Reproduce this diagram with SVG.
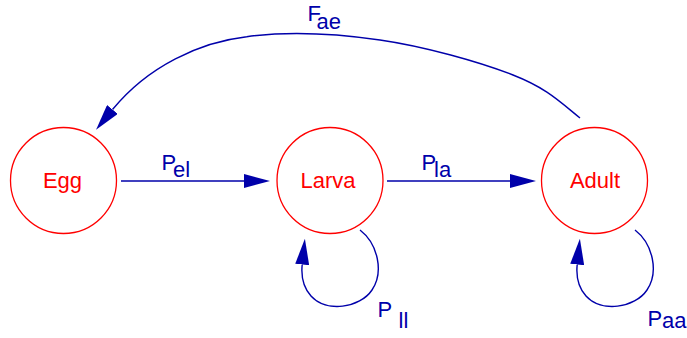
<svg xmlns="http://www.w3.org/2000/svg" width="687" height="338" viewBox="0 0 687 338">
<style>
.node{fill:none;stroke:#ff0000;stroke-width:1.3}
.ntext{font-family:"Liberation Sans",Arial,sans-serif;font-size:22px;fill:#ff0000;text-anchor:middle}
.edge{fill:none;stroke:#0000aa;stroke-width:1.4}
.lab{font-family:"Liberation Sans",Arial,sans-serif;font-size:22px;fill:#0000aa}
</style>
<defs>
<marker id="ah" viewBox="0 0 26 14" refX="0" refY="7" markerUnits="userSpaceOnUse" markerWidth="26" markerHeight="14" orient="auto">
<path d="M0,0 L26,7 L0,14 z" fill="#0000aa"/>
</marker>
</defs>
<rect width="687" height="338" fill="#ffffff"/>
<g id="connectors">
<path class="edge" d="M121,181 L244,181" marker-end="url(#ah)"/>
<path class="edge" d="M387,181 L510,181" marker-end="url(#ah)"/>
<path class="edge" d="M580,118 C559.3,101.2 546.3,88 513,75 C479.7,62 424.4,46.4 380,40 C335.6,33.6 285.6,31.4 246.7,36.7 C200,42 148,66 112.5,109.5" marker-end="url(#ah)"/>
<path class="edge" d="M360,230 C378,244 384,272 372,290 C360,308 326,313 311,296 C303,287 301,276 302.2,264.5" marker-end="url(#ah)"/>
<path class="edge" d="M635,230 C653,244 659,272 647,290 C635,308 601,313 586,296 C578,287 576,276 577.2,264.5" marker-end="url(#ah)"/>
</g>
<g id="egg">
<circle class="node" cx="63.5" cy="180.5" r="53"/>
<text class="ntext" x="62.5" y="188">Egg</text>
</g>
<g id="larva">
<circle class="node" cx="330" cy="180.5" r="53"/>
<text class="ntext" x="328" y="188">Larva</text>
</g>
<g id="adult">
<circle class="node" cx="594.5" cy="180.5" r="53"/>
<text class="ntext" x="595" y="188">Adult</text>
</g>
<g id="labels">
<text class="lab"><tspan x="161.6" y="170">P</tspan><tspan x="173" y="176.7">el</tspan></text>
<text class="lab"><tspan x="421.6" y="170">P</tspan><tspan x="434" y="176.7">la</tspan></text>
<text class="lab"><tspan x="307.5" y="20.7">F</tspan><tspan x="316.5" y="29.3">ae</tspan></text>
<text class="lab"><tspan x="377.6" y="316.7">P</tspan><tspan x="398.5" y="327.5">ll</tspan></text>
<text class="lab"><tspan x="647.5" y="326">P</tspan><tspan x="662" y="328">aa</tspan></text>
</g>
</svg>
